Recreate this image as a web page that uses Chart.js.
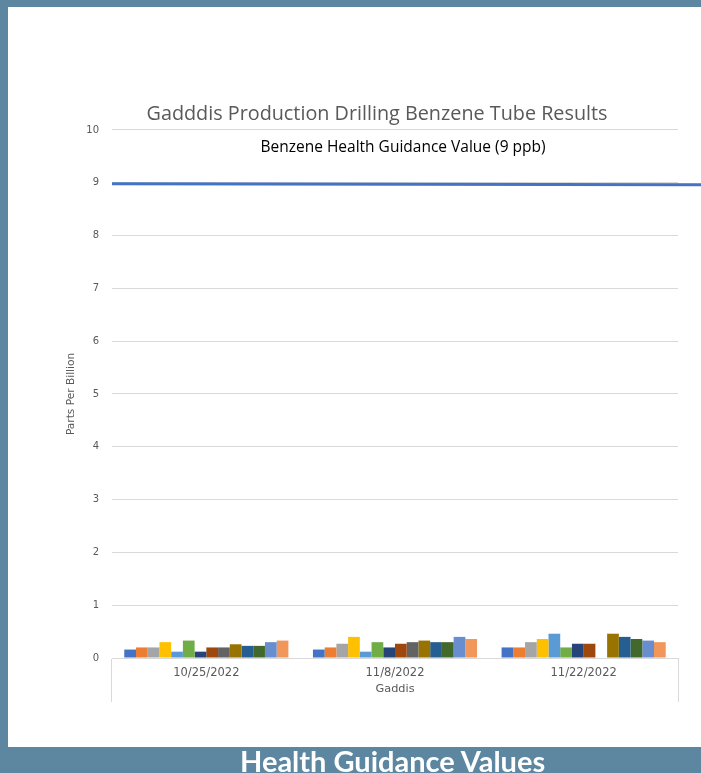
<!DOCTYPE html>
<html>
<head>
<meta charset="utf-8">
<script src="https://cdn.jsdelivr.net/npm/chart.js@4.4.1/dist/chart.umd.min.js"></script>
<style>
  html, body { margin: 0; padding: 0; }
  body { width: 701px; height: 773px; background: #5d86a0; position: relative; overflow: hidden; }
  #panel { position: absolute; left: 8px; top: 7px; width: 693px; height: 740px; background: #ffffff; }
  #chartBox { position: absolute; left: 0; top: 0; width: 693px; height: 740px; }
  #band { position: absolute; left: 240px; top: 747.5px; font-family: Lato, "Open Sans", sans-serif; font-weight: bold; font-size: 29px; line-height: 26px; color: #ffffff; white-space: nowrap; }
</style>
</head>
<body>
<div id="panel"><div id="chartBox"><canvas id="c"></canvas></div></div>
<div id="band">Health Guidance Values</div>
<script>
// ---- data ----
const categories = ['10/25/2022', '11/8/2022', '11/22/2022'];
const seriesNames = ['Tube 1','Tube 2','Tube 3','Tube 4','Tube 5','Tube 6','Tube 7','Tube 8','Tube 9','Tube 10','Tube 11','Tube 12','Tube 13','Tube 14'];
const tube01 = [0.16, 0.16, 0.20];
const tube02 = [0.20, 0.20, 0.20];
const tube03 = [0.20, 0.27, 0.30];
const tube04 = [0.30, 0.40, 0.36];
const tube05 = [0.12, 0.12, 0.46];
const tube06 = [0.33, 0.30, 0.20];
const tube07 = [0.12, 0.20, 0.27];
const tube08 = [0.20, 0.27, 0.27];
const tube09 = [0.20, 0.30, null];
const tube10 = [0.26, 0.33, 0.46];
const tube11 = [0.23, 0.30, 0.40];
const tube12 = [0.23, 0.30, 0.36];
const tube13 = [0.30, 0.40, 0.33];
const tube14 = [0.33, 0.36, 0.30];
const yTickValues = [0, 1, 2, 3, 4, 5, 6, 7, 8, 9, 10];
const guidanceValue = 9;
const guidanceLabel = 'Benzene Health Guidance Value (9 ppb)';
const chartTitle = 'Gadddis Production Drilling Benzene Tube Results';
const yAxisTitle = 'Parts Per Billion';
const xAxisTitle = 'Gaddis';

// ---- styles ----
const seriesColors = ['#4472C4','#ED7D31','#A5A5A5','#FFC000','#5B9BD5','#70AD47','#264478','#9E480E','#636363','#997300','#255E91','#43682B','#698ED0','#F1975A'];
const allSeries = [tube01,tube02,tube03,tube04,tube05,tube06,tube07,tube08,tube09,tube10,tube11,tube12,tube13,tube14];
const textGray = '#595959';
const gridGray = '#d9d9d9';

const datasets = allSeries.map((vals, i) => ({
  label: seriesNames[i],
  data: vals,
  backgroundColor: seriesColors[i],
  borderWidth: 0,
  categoryPercentage: 0.87,
  barPercentage: 1.0
}));

const guidancePlugin = {
  id: 'guidance',
  afterDatasetsDraw(chart) {
    const { ctx, chartArea, scales } = chart;
    const y = scales.y.getPixelForValue(guidanceValue);
    ctx.save();
    ctx.strokeStyle = '#4472C4';
    ctx.lineWidth = 3;
    ctx.beginPath();
    ctx.moveTo(chartArea.left, y + 1);
    ctx.lineTo(chart.width, y + 2);
    ctx.stroke();
    ctx.fillStyle = '#000000';
    ctx.font = '15.5px "Open Sans", sans-serif';
    ctx.textAlign = 'center';
    ctx.textBaseline = 'middle';
    const ty = scales.y.getPixelForValue(guidanceValue + 0.66);
    ctx.fillText(guidanceLabel, (chartArea.left + chartArea.right) / 2 + 8, ty);
    ctx.restore();
  }
};

new Chart(document.getElementById('c'), {
  type: 'bar',
  data: { labels: categories, datasets },
  plugins: [guidancePlugin],
  options: {
    responsive: true,
    maintainAspectRatio: false,
    animation: false,
    layout: { padding: { left: 68, right: 23, top: 0, bottom: 0 } },
    plugins: {
      legend: { display: false },
      tooltip: { enabled: false },
      title: {
        display: true,
        text: chartTitle,
        color: textGray,
        font: { family: '"Open Sans", sans-serif', size: 19.8, weight: 'normal' },
        padding: { top: 95, bottom: 4.2 }
      }
    },
    scales: {
      x: {
        afterFit(scale) { scale.height = 89; },
        grid: {
          display: true,
          drawOnChartArea: false,
          drawTicks: true,
          tickLength: 44,
          color: (c) => (c.index === 0 || c.tick === undefined) ? gridGray : 'rgba(0,0,0,0)',
          lineWidth: 1
        },
        border: { display: true, color: gridGray, width: 1 },
        ticks: {
          color: textGray,
          font: { family: '"DejaVu Sans", sans-serif', size: 11.5 },
          padding: -35.7,
          maxRotation: 0
        },
        title: {
          display: true,
          text: xAxisTitle,
          color: textGray,
          font: { family: '"DejaVu Sans", sans-serif', size: 11.3 },
          padding: { top: 0, bottom: 51.3 }
        }
      },
      y: {
        min: 0,
        max: 10,
        afterFit(scale) { scale.width = 36; },
        afterBuildTicks(scale) { scale.ticks = yTickValues.map(v => ({ value: v })); },
        grid: { color: gridGray, lineWidth: 1, drawTicks: false },
        border: { display: false },
        ticks: {
          color: textGray,
          font: { family: '"DejaVu Sans", sans-serif', size: 10 },
          padding: 13
        },
        title: {
          display: true,
          text: yAxisTitle,
          color: textGray,
          font: { family: '"DejaVu Sans", sans-serif', size: 10.6 },
          padding: { top: -11.3, bottom: 0 }
        }
      }
    }
  }
});
</script>
</body>
</html>
